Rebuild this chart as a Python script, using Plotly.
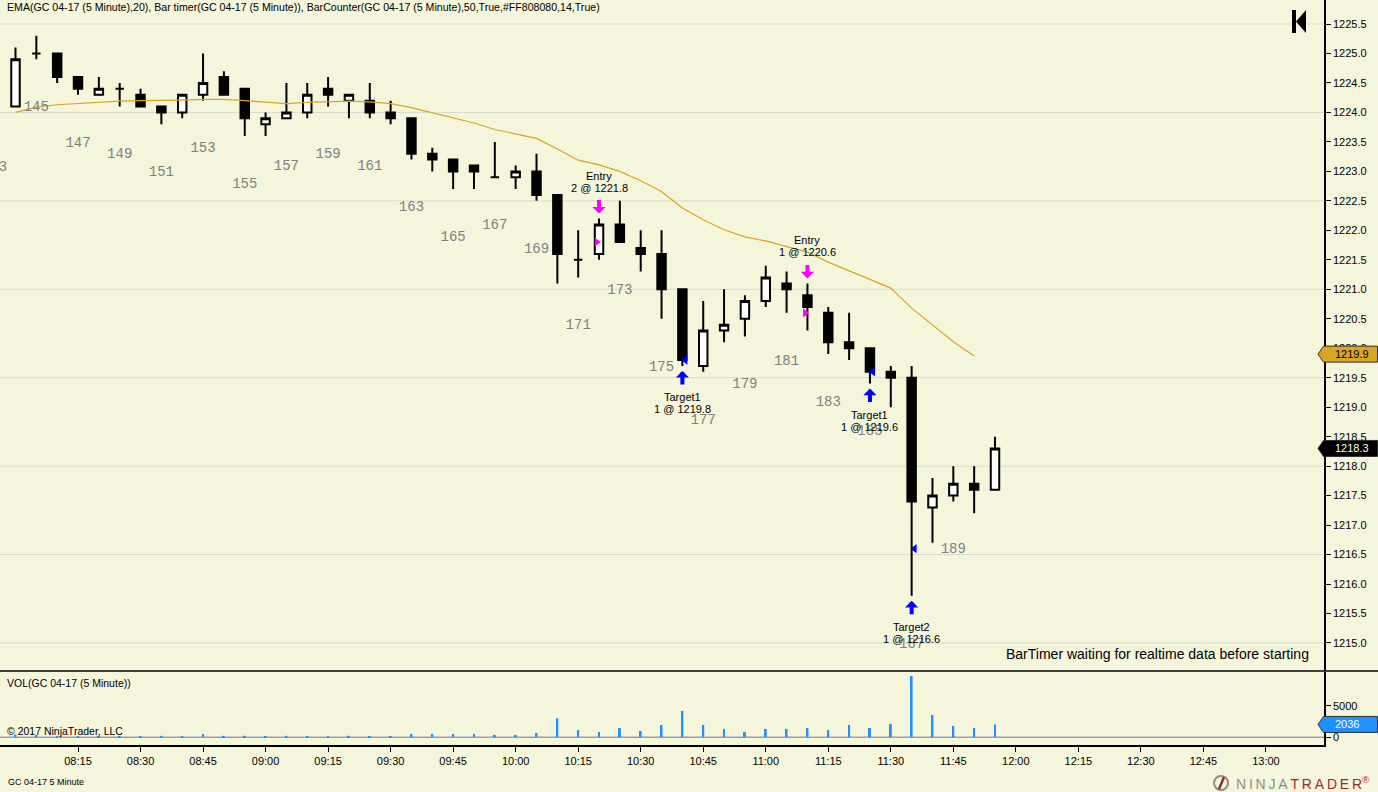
import plotly.graph_objects as go
import pandas as pd
import numpy as np

# ---------------- data ----------------
day = "2017-02-24"
bar_times = pd.date_range(f"{day} 08:00", periods=48, freq="5min")
time_ticks = pd.date_range(f"{day} 08:15", f"{day} 13:00", freq="15min")
first_bar_number = 144

opens = [1224.1, 1225.0, 1225.0, 1224.6, 1224.3, 1224.4, 1224.3, 1224.1, 1224.0, 1224.3,
         1224.6, 1224.4, 1223.8, 1223.9, 1224.0, 1224.4, 1224.2, 1224.2, 1224.0, 1223.9,
         1223.3, 1223.2, 1223.1, 1222.9, 1222.9, 1223.0, 1222.6, 1221.5, 1221.6, 1222.1,
         1221.7, 1221.6, 1221.0, 1219.7, 1220.3, 1220.5, 1220.8, 1221.1, 1220.9, 1220.6,
         1220.1, 1220.0, 1219.6, 1219.5, 1217.3, 1217.5, 1217.7, 1217.6]
highs = [1225.1, 1225.3, 1225.0, 1224.6, 1224.6, 1224.5, 1224.4, 1224.1, 1224.3, 1225.0,
         1224.7, 1224.4, 1224.0, 1224.5, 1224.5, 1224.6, 1224.3, 1224.5, 1224.2, 1223.9,
         1223.4, 1223.2, 1223.1, 1223.5, 1223.1, 1223.3, 1222.6, 1222.0, 1222.2, 1222.5,
         1222.0, 1222.0, 1221.0, 1220.8, 1221.0, 1220.9, 1221.4, 1221.3, 1221.1, 1220.7,
         1220.6, 1220.0, 1219.7, 1219.7, 1217.8, 1218.0, 1218.0, 1218.5]
lows = [1224.1, 1224.9, 1224.5, 1224.3, 1224.3, 1224.1, 1224.1, 1223.8, 1223.9, 1224.2,
        1224.3, 1223.6, 1223.6, 1223.9, 1223.9, 1224.1, 1223.9, 1223.9, 1223.8, 1223.2,
        1223.0, 1222.7, 1222.7, 1222.9, 1222.7, 1222.5, 1221.1, 1221.2, 1221.5, 1221.8,
        1221.3, 1220.5, 1219.7, 1219.6, 1220.1, 1220.2, 1220.7, 1220.6, 1220.3, 1219.9,
        1219.8, 1219.4, 1219.0, 1215.8, 1216.7, 1217.4, 1217.2, 1217.6]
closes = [1224.9, 1225.0, 1224.6, 1224.4, 1224.4, 1224.4, 1224.1, 1224.0, 1224.3, 1224.5,
          1224.3, 1223.9, 1223.9, 1224.0, 1224.3, 1224.3, 1224.3, 1224.0, 1223.9, 1223.3,
          1223.2, 1223.0, 1223.0, 1222.9, 1223.0, 1222.6, 1221.6, 1221.5, 1222.1, 1221.8,
          1221.6, 1221.0, 1219.8, 1220.3, 1220.4, 1220.8, 1221.2, 1221.0, 1220.7, 1220.1,
          1220.0, 1219.6, 1219.5, 1217.4, 1217.5, 1217.7, 1217.6, 1218.3]

ema20 = [1224.00, 1224.09, 1224.13, 1224.15, 1224.18, 1224.19, 1224.20, 1224.20, 1224.21, 1224.22,
         1224.22, 1224.20, 1224.18, 1224.15, 1224.17, 1224.18, 1224.19, 1224.18, 1224.15, 1224.08,
         1223.99, 1223.91, 1223.82, 1223.71, 1223.63, 1223.56, 1223.38, 1223.19, 1223.11, 1223.00,
         1222.84, 1222.66, 1222.38, 1222.18, 1222.01, 1221.89, 1221.82, 1221.72, 1221.63, 1221.46,
         1221.31, 1221.16, 1221.02, 1220.68, 1220.39, 1220.11, 1219.87]

volumes = [420, 370, 150, 100, 230, 230, 60, 230, 60, 530,
           230, 230, 60, 230, 60, 60, 230, 60, 60, 530,
           530, 530, 530, 370, 370, 690, 3000, 1160, 840, 1480,
           1000, 1950, 4160, 1950, 1320, 840, 1320, 1320, 1480, 1160,
           1950, 1480, 2110, 9700, 3530, 1790, 1480, 2036]

# off-screen counter label for bar 143 (07:55)
prev_label_time = pd.Timestamp(f"{day} 07:55")
prev_label_number = 143
prev_label_price = 1223.06

# executions
exec_bar = [28, 38, 32, 41, 43]
exec_name = ["Entry", "Entry", "Target1", "Target1", "Target2"]
exec_qty = [2, 1, 1, 1, 1]
exec_price = [1221.8, 1220.6, 1219.8, 1219.6, 1216.6]

price_ticks = [1215.0 + 0.5 * k for k in range(22)]
price_grid = [1215.0 + 1.5 * k for k in range(8)]
volume_ticks = [0, 5000]

ema_last = 1219.9
last_price = 1218.3
last_volume = 2036

# ---------------- style ----------------
BG = "#F5F5DC"
FONT = "Arial, Liberation Sans, sans-serif"
MONO = "Liberation Mono, Courier New, monospace"
W, H = 1378, 792
PLOT_W, PLOT_H = 1324, 745
PX_PER_PRICE = 58.95
PX_PER_VOL = 1 / 158.2

x_start = pd.Timestamp(f"{day} 07:56:17")
x_end = pd.Timestamp(f"{day} 13:13:56")


def py(px):
    return (PLOT_H - px) / PLOT_H


def pxx(px):
    return px / PLOT_W


fig = go.Figure()

fig.add_trace(go.Candlestick(
    x=bar_times, open=opens, high=highs, low=lows, close=closes,
    increasing=dict(fillcolor="white", line=dict(color="black", width=2)),
    decreasing=dict(fillcolor="black", line=dict(color="black", width=2)),
    whiskerwidth=0, showlegend=False, hoverinfo="skip", xaxis="x", yaxis="y"))

fig.add_trace(go.Scatter(
    x=bar_times[:len(ema20)], y=ema20, mode="lines",
    line=dict(color="#DAA520", width=1.2), showlegend=False, hoverinfo="skip",
    xaxis="x", yaxis="y"))

fig.add_trace(go.Bar(
    x=bar_times, y=volumes, width=28000, marker=dict(color="#1E90FF", line=dict(width=0)),
    showlegend=False, hoverinfo="skip", xaxis="x", yaxis="y2"))

ent_i = [k for k, n in enumerate(exec_name) if n == "Entry"]
tgt_i = [k for k, n in enumerate(exec_name) if n != "Entry"]
fig.add_trace(go.Scatter(
    x=[bar_times[exec_bar[k]] - pd.Timedelta(seconds=33) for k in ent_i],
    y=[exec_price[k] for k in ent_i], mode="markers",
    marker=dict(symbol="triangle-right", color="#FF00FF", size=8),
    showlegend=False, hoverinfo="skip", xaxis="x", yaxis="y"))
fig.add_trace(go.Scatter(
    x=[bar_times[exec_bar[k]] + pd.Timedelta(seconds=43) for k in tgt_i],
    y=[exec_price[k] for k in tgt_i], mode="markers",
    marker=dict(symbol="triangle-left", color="#0000FF", size=8),
    showlegend=False, hoverinfo="skip", xaxis="x", yaxis="y"))

# bar counter labels (completed bars only) as a clipped text trace
LABEL_OFFSET = 0.82
cnt_x = [prev_label_time]
cnt_y = [prev_label_price]
cnt_t = [str(prev_label_number)]
for i, t in enumerate(bar_times[:-1]):
    n = first_bar_number + i
    if n % 2 == 1:
        cnt_x.append(t)
        cnt_y.append(lows[i] - LABEL_OFFSET)
        cnt_t.append(str(n))
fig.add_trace(go.Scatter(
    x=cnt_x, y=cnt_y, text=cnt_t, mode="text", textposition="middle center",
    textfont=dict(family=MONO, size=14, color="#808080"), cliponaxis=True,
    showlegend=False, hoverinfo="skip", xaxis="x", yaxis="y"))

annotations = []
shapes = []

# execution arrows and texts
for k in range(len(exec_bar)):
    i = exec_bar[k]
    t = bar_times[i]
    if exec_name[k] == "Entry":
        yb, sgn, col = highs[i], 1, "#FF00FF"
    else:
        yb, sgn, col = lows[i], -1, "#0000FF"
    annotations.append(dict(x=t, y=yb, xref="x", yref="y", text="", showarrow=True,
                            ax=0, ay=-15 * sgn, axref="pixel", ayref="pixel",
                            yshift=5 * sgn, arrowcolor=col, arrowwidth=4,
                            arrowhead=1, arrowsize=0.55, standoff=0, startstandoff=0))
    l1, l2 = exec_name[k], f"{exec_qty[k]} @ {exec_price[k]:.1f}"
    annotations.append(dict(x=t, y=yb, xref="x", yref="y", text=l1, showarrow=False,
                            yshift=43 if sgn > 0 else -31,
                            font=dict(family=FONT, size=11, color="black")))
    annotations.append(dict(x=t, y=yb, xref="x", yref="y", text=l2, showarrow=False,
                            yshift=31 if sgn > 0 else -43,
                            font=dict(family=FONT, size=11, color="black")))

# price grid lines
for g in price_grid:
    shapes.append(dict(type="line", xref="paper", yref="y", x0=0, x1=1, y0=g, y1=g,
                       line=dict(color="#D9D9CF", width=1), layer="below"))
# volume zero line
shapes.append(dict(type="line", xref="paper", yref="y2", x0=0, x1=1, y0=0, y1=0,
                   line=dict(color="#A0A0A0", width=1.5), layer="below"))
# panel separator
shapes.append(dict(type="line", xref="paper", yref="paper", x0=0, x1=W / PLOT_W,
                   y0=py(671), y1=py(671), line=dict(color="black", width=1.5)))


def flag(yc, yref, half, fill, txtcol, txt):
    xt, xl, xr = pxx(1318), pxx(1323.5), pxx(1377.5)
    path = (f"M {xt},{yc} L {xl},{yc + half} L {xr},{yc + half} "
            f"L {xr},{yc - half} L {xl},{yc - half} Z")
    shapes.append(dict(type="path", xref="paper", yref=yref, path=path,
                       fillcolor=fill, line=dict(color="#303030", width=1), layer="above"))
    annotations.append(dict(x=pxx(1333), y=yc, xref="paper", yref=yref, text=txt,
                            xanchor="left", showarrow=False,
                            font=dict(family=FONT, size=11, color=txtcol)))


flag(ema_last, "y", 8 / PX_PER_PRICE, "#DAA520", "black", f"{ema_last:.1f}")
flag(last_price, "y", 8 / PX_PER_PRICE, "black", "white", f"{last_price:.1f}")
flag(last_volume, "y2", 8 / PX_PER_VOL, "#1E90FF", "white", str(last_volume))

# "scroll to end" icon top right
shapes.append(dict(type="rect", xref="paper", yref="paper",
                   x0=pxx(1292), x1=pxx(1296), y0=py(33), y1=py(10),
                   fillcolor="black", line=dict(width=0)))
shapes.append(dict(type="path", xref="paper", yref="paper",
                   path=f"M {pxx(1296)},{py(21.5)} L {pxx(1306)},{py(10)} L {pxx(1306)},{py(33)} Z",
                   fillcolor="black", line=dict(width=0)))

TS = "\u2009"
annotations += [
    dict(x=pxx(5), y=py(7), xref="paper", yref="paper", xanchor="left", yanchor="middle",
         text="EMA(GC 04-17 (5 Minute),20), Bar timer(GC 04-17 (5 Minute)), "
              "BarCounter(GC 04-17 (5 Minute),50,True,#FF808080,14,True)",
         showarrow=False, font=dict(family=FONT, size=10.6, color="black")),
    dict(x=pxx(1311), y=py(654), xref="paper", yref="paper", xanchor="right", yanchor="middle",
         text="BarTimer waiting for realtime data before starting",
         showarrow=False, font=dict(family=FONT, size=14, color="black")),
    dict(x=pxx(5), y=py(683), xref="paper", yref="paper", xanchor="left", yanchor="middle",
         text="VOL(GC 04-17 (5 Minute))", showarrow=False,
         font=dict(family=FONT, size=10.5, color="black")),
    dict(x=pxx(5), y=py(731), xref="paper", yref="paper", xanchor="left", yanchor="middle",
         text="© 2017 NinjaTrader, LLC", showarrow=False,
         font=dict(family=FONT, size=10.5, color="black")),
    dict(x=pxx(6), y=py(782), xref="paper", yref="paper", xanchor="left", yanchor="middle",
         text="GC 04-17 5 Minute", showarrow=False,
         font=dict(family=FONT, size=9, color="black")),
    dict(x=pxx(1234), y=py(783), xref="paper", yref="paper", xanchor="left", yanchor="middle",
         text="<span style='color:#8C8C8C'>" + TS.join("NINJA") + "</span>"
              "<span style='color:#A0282C'>" + TS + TS.join("TRADER") + "</span>"
              "<span style='color:#A0282C'><sup>®</sup></span>",
         showarrow=False, font=dict(family=FONT, size=14)),
]
shapes.append(dict(type="circle", xref="paper", yref="paper",
                   x0=pxx(1214), x1=pxx(1228), y0=py(790), y1=py(776),
                   line=dict(color="#8C8C8C", width=2)))
shapes.append(dict(type="line", xref="paper", yref="paper",
                   x0=pxx(1219), x1=pxx(1224), y0=py(789), y1=py(777),
                   line=dict(color="#A0282C", width=2.5)))

fig.update_layout(
    width=W, height=H,
    margin=dict(l=0, r=W - PLOT_W, t=0, b=H - PLOT_H, autoexpand=False),
    paper_bgcolor=BG, plot_bgcolor=BG,
    font=dict(family=FONT, size=11, color="black"),
    showlegend=False, boxgap=0.42,
    xaxis=dict(type="date", range=[x_start, x_end], anchor="y2", automargin=False,
               tickmode="array", tickvals=list(time_ticks),
               ticktext=[t.strftime("%H:%M") for t in time_ticks],
               ticks="outside", ticklen=5, tickcolor="black", tickwidth=1,
               showgrid=False, zeroline=False, showline=True, linecolor="black", linewidth=1.5,
               rangeslider=dict(visible=False),
               tickfont=dict(family=FONT, size=11, color="black")),
    yaxis=dict(domain=[py(671), 1], side="right", anchor="x", automargin=False,
               range=[1225.5 - (671 - 24) / PX_PER_PRICE, 1225.5 + 24 / PX_PER_PRICE],
               tickvals=price_ticks, ticktext=[f"{v:.1f}" for v in price_ticks],
               ticks="outside", ticklen=5, tickcolor="black",
               showgrid=False, zeroline=False, showline=True, linecolor="black", linewidth=1.5,
               tickfont=dict(family=FONT, size=11, color="black")),
    yaxis2=dict(domain=[0, py(672)], side="right", anchor="x", automargin=False,
                range=[-(745 - 737.3) / PX_PER_VOL, (737.3 - 672) / PX_PER_VOL],
                tickvals=volume_ticks, ticktext=[str(v) for v in volume_ticks],
                ticks="outside", ticklen=5, tickcolor="black",
                showgrid=False, zeroline=False, showline=True, linecolor="black", linewidth=1.5,
                tickfont=dict(family=FONT, size=11, color="black")),
    annotations=annotations, shapes=shapes,
)

fig.write_html("out.html", config={"displayModeBar": False},
               post_script="document.body.style.margin='0px';document.body.style.padding='0px';"
                           "document.body.style.overflow='hidden';")
